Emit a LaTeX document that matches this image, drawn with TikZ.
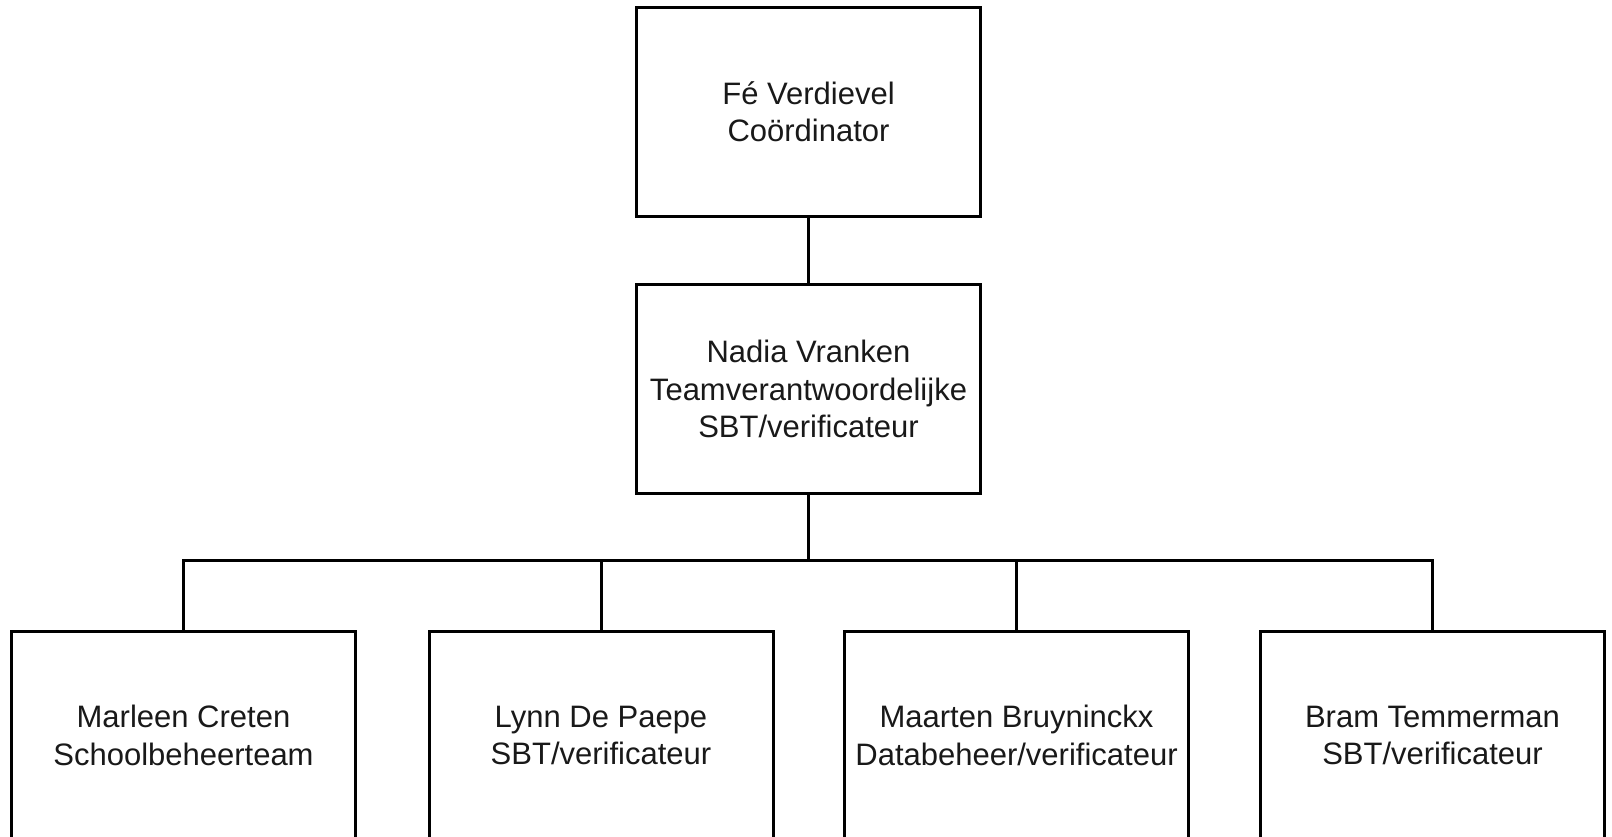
\documentclass[tikz,border=0pt]{standalone}
\usepackage{fontspec}
\setmainfont{Liberation Sans}
\begin{document}
\begin{tikzpicture}[x=1pt,y=-1pt,
  box/.style={draw=black, line width=3pt, minimum width=344pt, minimum height=209pt,
    align=center, inner sep=0pt, text=black!90, font=\fontsize{31}{37.5}\selectfont},
  conn/.style={draw=black, line width=3pt}]
\useasboundingbox (0,0) rectangle (1612,836);
\fill[white] (0,0) rectangle (1612,836);
\node[box] (a) at (808.5,111.5) {Fé Verdievel\\Coördinator};
\node[box] (b) at (808.5,389) {Nadia Vranken\\Teamverantwoordelijke\\SBT/verificateur};
\node[box] (c1) at (183.5,735.5) {Marleen Creten\\Schoolbeheerteam};
\node[box] (c2) at (601,735.5) {Lynn De Paepe\\SBT/verificateur};
\node[box] (c3) at (1016.5,735.5) {Maarten Bruyninckx\\Databeheer/verificateur};
\node[box] (c4) at (1432.5,735.5) {Bram Temmerman\\SBT/verificateur};
\coordinate (j) at (808.5,560);
\draw[conn] (a.south) -- (b.north);
\draw[conn] (b.south) -- (j);
\draw[conn] (c1.north) |- (j);
\draw[conn] (c2.north) |- (j);
\draw[conn] (c3.north) |- (j);
\draw[conn] (c4.north) |- (j);
\end{tikzpicture}
\end{document}
